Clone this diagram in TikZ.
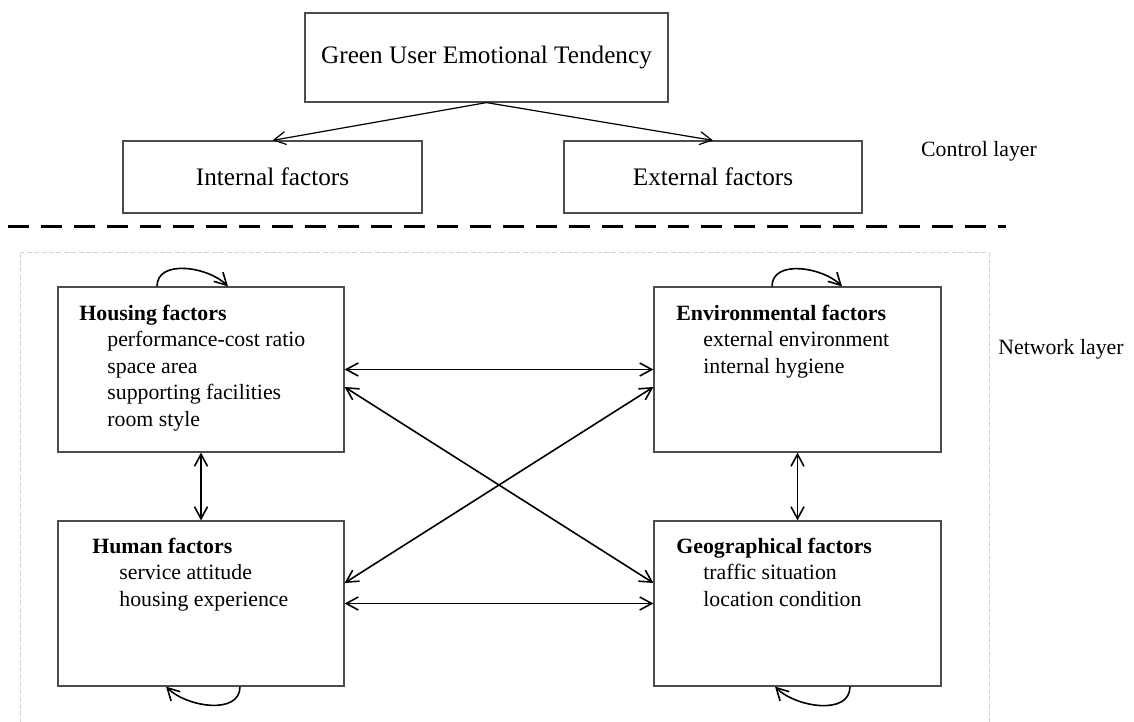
\documentclass[tikz,border=0pt]{standalone}
\usepackage{fontspec}
\setmainfont{Liberation Serif}
\usetikzlibrary{arrows.meta}

\begin{document}
\begin{tikzpicture}[
    x=0.5pt, y=-0.5pt,
    >={Straight Barb[length=6pt,width=6.5pt]},
    box_style/.style={rectangle, draw=black!70, line width=0.6pt, inner sep=0pt},
    big_font/.style={font=\fontsize{12.6}{15}\selectfont},
    small_font/.style={font=\fontsize{10.9}{13.3}\selectfont},
    factor_text/.style={small_font, align=left, anchor=base west, inner sep=0pt},
    link/.style={line width=0.8pt, <->},
    self_loop/.style={line width=0.8pt, ->}
]
\useasboundingbox (0,0) rectangle (1134,722);

% Couche de controle
\node[box_style, big_font, minimum width=181.5pt, minimum height=44.5pt] (goal) at (486.5,57.5) {Green User Emotional Tendency};
\node[box_style, big_font, minimum width=149.5pt, minimum height=36pt] (internal) at (272.5,177) {Internal factors};
\node[box_style, big_font, minimum width=149pt, minimum height=36pt] (external) at (713,177) {External factors};
\draw[line width=0.6pt, ->] (goal.south) -- (internal.north);
\draw[line width=0.6pt, ->] (goal.south) -- (external.north);
\node[small_font] (ctrl) at (979,151) {Control layer};

% Separation
\coordinate (sepL) at (8,226.5);
\coordinate (sepR) at (1006,226.5);
\draw[line width=1.8pt, dash pattern=on 10.5pt off 6pt] (sepL) -- (sepR);

% Couche reseau
\draw[gray!35, line width=0.5pt, dash pattern=on 2.5pt off 1.2pt] (20.5,252.5) rectangle (989,740);
\node[small_font] (netw) at (1061,349) {Network layer};

\node[box_style, minimum width=143pt, minimum height=82.5pt] (hous) at (201,369.5) {};
\node[box_style, minimum width=143.5pt, minimum height=82.5pt] (env) at (797.5,369.5) {};
\node[box_style, minimum width=143pt, minimum height=82.5pt] (human) at (201,603.5) {};
\node[box_style, minimum width=143.5pt, minimum height=82.5pt] (geo) at (797.5,603.5) {};

% base = derniere ligne
\node[factor_text] (houstxt) at (79,426.5) {\textbf{Housing factors}\\
    \hspace*{14pt}performance-cost ratio\\
    \hspace*{14pt}space area\\
    \hspace*{14pt}supporting facilities\\
    \hspace*{14pt}room style};
\node[factor_text] (envtxt) at (676,373.5) {\textbf{Environmental factors}\\
    \hspace*{13.5pt}external environment\\
    \hspace*{13.5pt}internal hygiene};
\node[factor_text] (humantxt) at (92,606.5) {\textbf{Human factors}\\
    \hspace*{13.5pt}service attitude\\
    \hspace*{13.5pt}housing experience};
\node[factor_text] (geotxt) at (676,606.5) {\textbf{Geographical factors}\\
    \hspace*{13.5pt}traffic situation\\
    \hspace*{13.5pt}location condition};

% Liens
\draw[link] (hous.east) -- (env.west);
\draw[link] (human.east) -- (geo.west);
\draw[link] (hous.south) -- (human.north);
\draw[link] (env.south) -- (geo.north);
\draw[link] ([yshift=-8.75pt]hous.east) -- ([yshift=10.25pt]geo.west);
\draw[link] ([yshift=10.25pt]human.east) -- ([yshift=-8.75pt]env.west);

% Boucles
\draw[self_loop] ([xshift=-22pt]hous.north) to[out=90, in=135] ([xshift=13.5pt]hous.north);
\draw[self_loop] ([xshift=-12.75pt]env.north) to[out=90, in=135] ([xshift=22.25pt]env.north);
\draw[self_loop] ([xshift=19.5pt]human.south) to[out=-90, in=-45] ([xshift=-17.5pt]human.south);
\draw[self_loop] ([xshift=26.25pt]geo.south) to[out=-90, in=-45] ([xshift=-11.25pt]geo.south);
\end{tikzpicture}
\end{document}
